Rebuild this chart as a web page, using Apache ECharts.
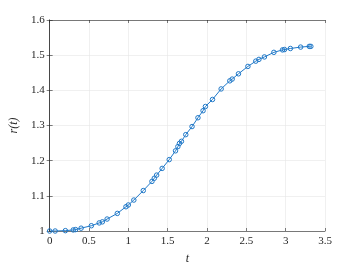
<!DOCTYPE html>
<html><head><meta charset="utf-8">
<script src="https://cdn.jsdelivr.net/npm/echarts@6/dist/echarts.min.js"></script>
<style>html,body{margin:0;padding:0;background:#fff}#c{width:360px;height:270px}</style>
</head><body><div id="c"></div>
<script>
var tValues = [0, 0.07, 0.2, 0.3, 0.33, 0.4, 0.53, 0.63, 0.67, 0.73, 0.86, 0.97, 1.0, 1.07, 1.19, 1.3, 1.33, 1.36, 1.43, 1.52, 1.6, 1.63, 1.65, 1.675, 1.73, 1.81, 1.885, 1.95, 1.98, 2.07, 2.18, 2.29, 2.32, 2.4, 2.52, 2.62, 2.66, 2.73, 2.85, 2.96, 2.985, 3.06, 3.19, 3.3, 3.32];
var rValues = [1.0, 1.0, 1.001, 1.003, 1.004, 1.008, 1.015, 1.023, 1.026, 1.034, 1.05, 1.069, 1.074, 1.088, 1.115, 1.141, 1.15, 1.159, 1.178, 1.203, 1.228, 1.240, 1.249, 1.255, 1.274, 1.297, 1.322, 1.342, 1.354, 1.374, 1.404, 1.427, 1.432, 1.447, 1.468, 1.483, 1.488, 1.495, 1.508, 1.515, 1.516, 1.519, 1.523, 1.525, 1.525];
var xLabel = 't';
var yLabel = 'r(t)';

var data = tValues.map(function(t,i){return [t, rValues[i]];});
var font = 'Liberation Serif';
var axisLine = {show:true, lineStyle:{color:'#262626', width:0.6}};
var tick = {show:true, inside:true, length:3, lineStyle:{color:'#262626', width:0.6}};
var chart = echarts.init(document.getElementById('c'), null, {renderer:'canvas'});
chart.setOption({
  animation:false,
  backgroundColor:'#fff',
  grid:{left:47, right:35, top:20, bottom:30},
  xAxis:[{
    type:'value', min:0, max:3.5, interval:0.5, position:'bottom',
    axisLine:axisLine, axisTick:tick,
    axisLabel:{color:'#262626', fontFamily:font, fontSize:11, margin:5},
    splitLine:{show:true, lineStyle:{color:'#e6e6e6', width:0.6}},
    name:xLabel, nameLocation:'middle', nameGap:22,
    nameTextStyle:{fontFamily:font, fontStyle:'italic', fontSize:12, color:'#262626'}
  },{
    type:'value', min:0, max:3.5, interval:0.5, position:'top',
    axisLine:axisLine, axisTick:tick, axisLabel:{show:false}, splitLine:{show:false}
  }],
  yAxis:[{
    type:'value', min:1, max:1.6, interval:0.1, position:'left',
    axisLine:axisLine, axisTick:tick,
    axisLabel:{color:'#262626', fontFamily:font, fontSize:11, margin:5},
    splitLine:{show:true, lineStyle:{color:'#e6e6e6', width:0.6}},
    name:yLabel, nameLocation:'middle', nameGap:20,
    nameTextStyle:{fontFamily:font, fontStyle:'italic', fontSize:12, color:'#262626'}
  },{
    type:'value', min:1, max:1.6, interval:0.1, position:'right',
    axisLine:axisLine, axisTick:tick, axisLabel:{show:false}, splitLine:{show:false}
  }],
  series:[{
    type:'line', data:data, xAxisIndex:0, yAxisIndex:0,
    symbol:'circle', symbolSize:4.5, showAllSymbol:true,
    lineStyle:{color:'#1f78c8', width:1},
    itemStyle:{color:'rgba(0,0,0,0)', borderColor:'#1f78c8', borderWidth:1, opacity:1}
  }]
});
</script></body></html>
